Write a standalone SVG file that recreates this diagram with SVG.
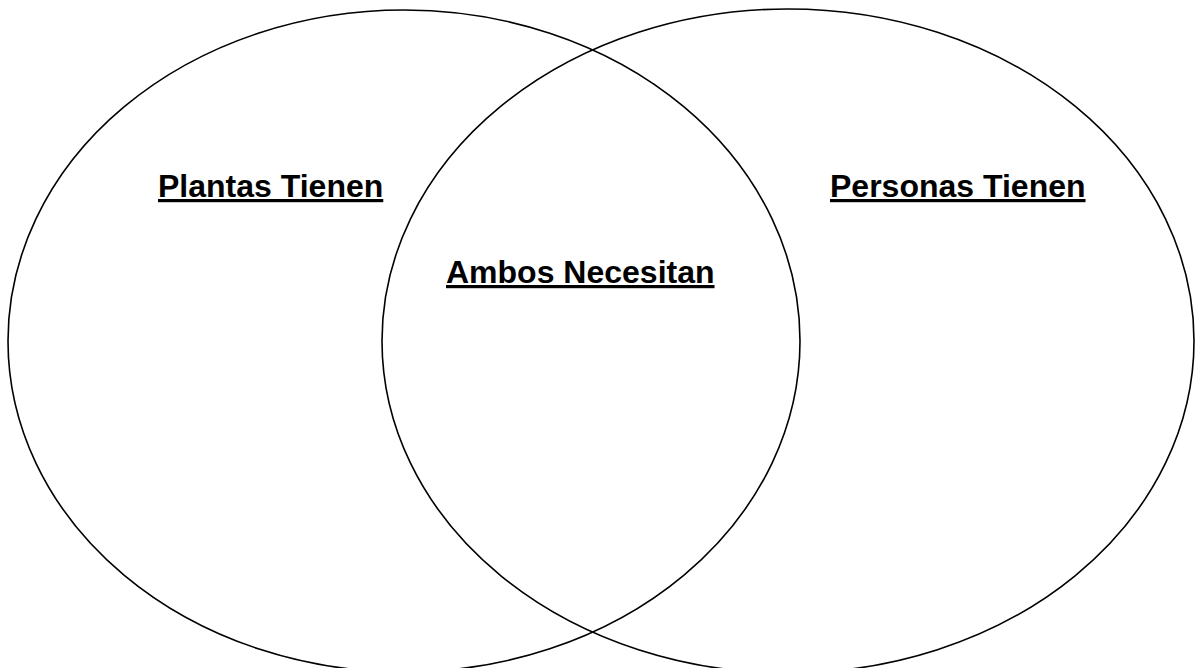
<svg xmlns="http://www.w3.org/2000/svg" width="1195" height="668" viewBox="0 0 1195 668">
<style>
.c{fill:none;stroke:#000;stroke-width:1.6}
.t{font-family:"Liberation Sans",Arial,sans-serif;font-weight:bold;font-size:32px;fill:#000;text-decoration:underline}
</style>
<rect width="1195" height="668" fill="#fff"/>
<g id="plantas">
<ellipse class="c" cx="404" cy="341" rx="396" ry="331"/>
<text class="t" x="158" y="197">Plantas Tienen</text>
</g>
<g id="personas">
<ellipse class="c" cx="788" cy="341" rx="406" ry="332"/>
<text class="t" x="830" y="197">Personas Tienen</text>
</g>
<g id="ambos">
<text class="t" x="446" y="283">Ambos Necesitan</text>
</g>
<g id="connectors"/>
</svg>
